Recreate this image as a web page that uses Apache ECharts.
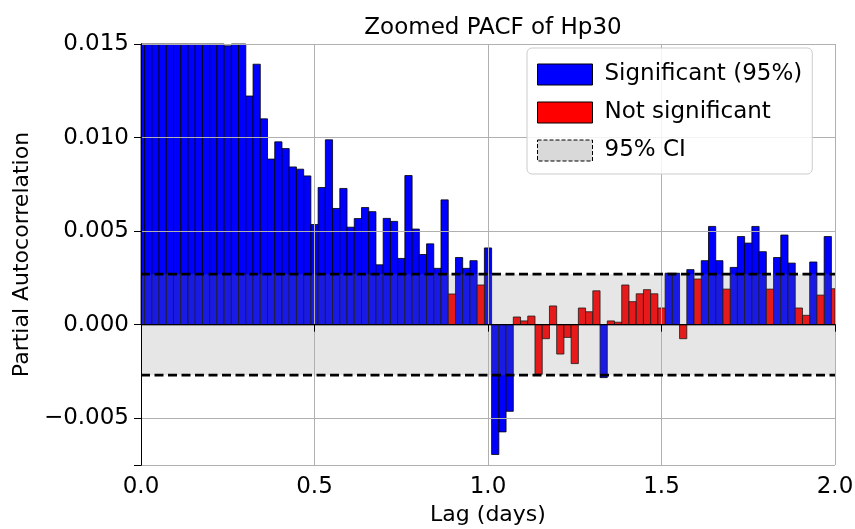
<!DOCTYPE html>
<html><head><meta charset="utf-8">
<script src="https://cdn.jsdelivr.net/npm/echarts@6/dist/echarts.min.js"></script>
<style>html,body{margin:0;padding:0;background:#fff}#c{width:855px;height:529px}</style>
</head><body><div id="c"></div>
<script>
// PACF of Hp30 at lags 0..96 (30-minute steps)
const pacf = [
  1.0, 0.95, 0.10, 0.045, 0.032, 0.027, 0.024, 0.021, 0.019, 0.018, 0.0165, 0.0158,
  0.0149, 0.0157, 0.0153, 0.01222, 0.01392, 0.0110, 0.00885, 0.00977, 0.00941, 0.00843,
  0.00831, 0.00795, 0.00535, 0.00733, 0.00988, 0.00621, 0.00728, 0.00521, 0.00567, 0.00626,
  0.00604, 0.00320, 0.00568, 0.00552, 0.00354, 0.00797, 0.00511, 0.00375, 0.00432, 0.00301,
  0.00667, 0.00164, 0.00359, 0.00301, 0.00342, 0.00212, 0.00410, -0.00694, -0.00573, -0.00463,
  0.00041, 0.00020, 0.00046, -0.00265, -0.00075, 0.00100, -0.00157, -0.00068, -0.00208, 0.00089,
  0.00069, 0.00181, -0.00283, 0.00020, 0.00013, 0.00212, 0.00123, 0.00165, 0.00187, 0.00165,
  0.00089, 0.00275, 0.00275, -0.00075, 0.00294, 0.00244, 0.00342, 0.00525, 0.00342, 0.00190,
  0.00306, 0.00471, 0.00436, 0.00525, 0.00390, 0.00190, 0.00359, 0.00479, 0.00329, 0.00089,
  0.00050, 0.00335, 0.00158, 0.00471, 0.00192
];
const ci95 = 0.0027;
const lagStepDays = 1 / 48;
const xRange = [0, 2];
const yRange = [-0.0075, 0.015];
const seriesNames = ['Significant (95%)', 'Not significant', '95% CI'];
const titleText = 'Zoomed PACF of Hp30';
const xName = 'Lag (days)';
const yName = 'Partial Autocorrelation';

const lags = pacf.map((_, i) => i * lagStepDays);
const sigData = [], nonSigData = [];
pacf.forEach((v, i) => {
  if (Math.abs(v) > ci95) sigData.push([lags[i], v]); else nonSigData.push([lags[i], v]);
});
const ciBand = [[xRange[0], -ci95, xRange[1], ci95]];

const FONT = 'DejaVu Sans';
const fmtY = v => {
  if (Math.abs(Math.round(v / 0.005) * 0.005 - v) > 1e-9) return '';
  const s = Math.abs(v).toFixed(3);
  return (v < -1e-12 ? '\u2212' : '') + s;
};
function clipToGrid(params, r) {
  const cs = params.coordSys;
  return echarts.graphic.clipRectByRect(r, {x: cs.x, y: cs.y, width: cs.width, height: cs.height});
}
function barRenderer(fill) {
  return function (params, api) {
    const x = api.value(0), y = api.value(1);
    const p0 = api.coord([x - lagStepDays / 2, 0]);
    const p1 = api.coord([x + lagStepDays / 2, y]);
    const rect = clipToGrid(params,
      {x: p0[0], y: Math.min(p0[1], p1[1]), width: p1[0] - p0[0], height: Math.abs(p1[1] - p0[1])});
    if (!rect) return null;
    return {type: 'rect', shape: rect, style: {fill: fill, stroke: '#000', lineWidth: 0.8}};
  };
}
function bandRenderer(params, api) {
  const p0 = api.coord([api.value(0), api.value(3)]);
  const p1 = api.coord([api.value(2), api.value(1)]);
  const rect = clipToGrid(params, {x: p0[0], y: p0[1], width: p1[0] - p0[0], height: p1[1] - p0[1]});
  if (!rect) return null;
  return {type: 'rect', shape: rect, style: {fill: 'rgba(128,128,128,0.2)'}};
}
const hLine = (y, style, z) => ({
  type: 'line', data: [[xRange[0], y], [xRange[1], y]], symbol: 'none', silent: true, z: z,
  lineStyle: style, animation: false
});
const chart = echarts.init(document.getElementById('c'), null, {renderer: 'canvas'});
chart.setOption({
  animation: false,
  backgroundColor: '#fff',
  textStyle: {fontFamily: FONT},
  title: {text: titleText, left: 488, top: 12, textAlign: 'center',
    textStyle: {fontFamily: FONT, fontSize: 23, fontWeight: 'normal', color: '#000'}},
  grid: {left: 141, right: 20, top: 44, bottom: 64, outerBoundsMode: 'none', containLabel: false},
  legend: {
    left: 527, top: 48, orient: 'vertical', z: 20,
    padding: [15, 10, 12, 10], itemGap: 15, itemWidth: 55, itemHeight: 21,
    backgroundColor: 'rgba(255,255,255,0.85)', borderColor: '#cccccc', borderWidth: 1, borderRadius: 5,
    textStyle: {fontFamily: FONT, fontSize: 23, color: '#000', padding: [0, 0, 0, 7]},
    data: [
      {name: seriesNames[0], icon: 'rect', itemStyle: {color: '#0000ff', borderColor: '#000', borderWidth: 1}},
      {name: seriesNames[1], icon: 'rect', itemStyle: {color: '#ff0000', borderColor: '#000', borderWidth: 1}},
      {name: seriesNames[2], icon: 'rect', itemStyle: {color: 'rgba(128,128,128,0.3)', borderColor: '#000', borderWidth: 1, borderType: 'dashed'}}
    ]
  },
  xAxis: [{
    type: 'value', min: xRange[0], max: xRange[1], interval: 0.5, z: 10,
    name: xName, nameLocation: 'middle', nameGap: 39,
    nameTextStyle: {fontFamily: FONT, fontSize: 22, color: '#000'},
    axisLine: {lineStyle: {color: '#000', width: 1}},
    axisTick: {show: true, length: 7, lineStyle: {color: '#000'}},
    axisLabel: {fontFamily: FONT, fontSize: 23, color: '#000', margin: 11, formatter: v => v.toFixed(1)},
    splitLine: {show: true, lineStyle: {color: '#b0b0b0', width: 1}}
  }, {
    type: 'value', min: xRange[0], max: xRange[1], position: 'top', z: 10,
    axisLine: {show: true, lineStyle: {color: '#000', width: 1}},
    axisTick: {show: false}, axisLabel: {show: false}, splitLine: {show: false}
  }],
  yAxis: [{
    type: 'value', min: yRange[0], max: yRange[1], z: 10,
    name: yName, nameLocation: 'middle', nameGap: 105, nameRotate: 90,
    nameTextStyle: {fontFamily: FONT, fontSize: 22, color: '#000'},
    axisLine: {show: true, lineStyle: {color: '#000', width: 1}},
    axisTick: {show: true, length: 7, lineStyle: {color: '#000'}},
    axisLabel: {fontFamily: FONT, fontSize: 23, color: '#000', margin: 12, formatter: fmtY},
    splitLine: {show: true, lineStyle: {color: '#b0b0b0', width: 1}}
  }, {
    type: 'value', min: yRange[0], max: yRange[1], position: 'right', z: 10,
    axisLine: {show: true, lineStyle: {color: '#000', width: 1}},
    axisTick: {show: false}, axisLabel: {show: false}, splitLine: {show: false}
  }],
  series: [
    {name: seriesNames[0], type: 'custom', data: sigData, renderItem: barRenderer('#0000ff'),
      encode: {x: 0, y: 1}, itemStyle: {color: '#0000ff'}, z: 2},
    {name: seriesNames[1], type: 'custom', data: nonSigData, renderItem: barRenderer('#ff0000'),
      encode: {x: 0, y: 1}, itemStyle: {color: '#ff0000'}, z: 2},
    {name: seriesNames[2], type: 'custom', data: ciBand, renderItem: bandRenderer, silent: true,
      encode: {x: [0, 2], y: [1, 3]}, itemStyle: {color: 'rgba(128,128,128,0.3)'}, z: 4},
    hLine(0, {color: '#000', width: 1.3, type: 'solid'}, 11),
    hLine(ci95, {color: '#000', width: 2.7, type: [9, 4.5]}, 12),
    hLine(-ci95, {color: '#000', width: 2.7, type: [9, 4.5]}, 12)
  ]
});
</script></body></html>
